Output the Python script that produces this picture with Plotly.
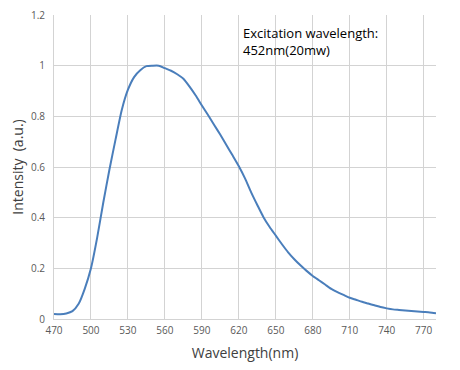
import plotly.graph_objects as go

wavelength = [470, 475, 480, 485, 490, 495, 500, 505, 510, 515, 520, 525, 530, 535, 540,
              545, 550, 555, 560, 565, 570, 575, 580, 585, 590, 595, 600, 605, 610, 615,
              620, 625, 630, 635, 640, 645, 650, 655, 660, 665, 670, 675, 680, 685, 690,
              695, 700, 705, 710, 715, 720, 725, 730, 735, 740, 745, 750, 755, 760, 765,
              770, 775, 780]
intensity = [0.020, 0.019, 0.022, 0.031, 0.060, 0.12, 0.20, 0.32, 0.46, 0.59, 0.71, 0.825, 0.905, 0.955, 0.982,
             0.998, 1.000, 1.000, 0.990, 0.980, 0.966, 0.948, 0.917, 0.882, 0.843, 0.805, 0.766, 0.727, 0.686, 0.645,
             0.603, 0.555, 0.500, 0.450, 0.402, 0.363, 0.329, 0.295, 0.263, 0.236, 0.212, 0.190, 0.170, 0.153, 0.136,
             0.119, 0.106, 0.095, 0.084, 0.076, 0.068, 0.061, 0.054, 0.047, 0.042, 0.038, 0.036, 0.034, 0.032, 0.030,
             0.028, 0.026, 0.023]

x_ticks = list(range(470, 771, 30))
y_ticks = [0, 0.2, 0.4, 0.6, 0.8, 1, 1.2]
y_tick_labels = ["0", "0.2", "0.4", "0.6", "0.8", "1", "1.2"]

font_family = "Open Sans, Lato, sans-serif"
grid = "#d3d3d3"
tick_color = "#595959"

fig = go.Figure()
fig.add_trace(go.Scatter(x=wavelength, y=intensity, mode="lines",
                         line=dict(color="#4a7ebb", width=2, shape="spline", smoothing=0.6),
                         showlegend=False))

fig.add_annotation(x=622, y=1.172, xref="x", yref="y", xanchor="left", yanchor="top",
                   text="Excitation wavelength:<br>452nm(20mw)", showarrow=False, align="left",
                   font=dict(family=font_family, size=13, color="#000000"))

fig.update_layout(
    width=460, height=370,
    margin=dict(l=46, r=32, t=7, b=59),
    paper_bgcolor="white", plot_bgcolor="white",
    font=dict(family=font_family, color=tick_color, size=10),
    xaxis=dict(range=[470, 780], tickvals=x_ticks, showgrid=True, gridcolor=grid, gridwidth=1,
               showline=True, linecolor=grid, linewidth=1, zeroline=False, automargin=False,
               ticks="", ticklabelstandoff=2, ticklabeloverflow="allow",
               title=dict(text="Wavelength(nm)", font=dict(size=14, color="#404040"), standoff=12),
               tickfont=dict(size=10, color=tick_color)),
    yaxis=dict(range=[0, 1.2], tickvals=y_ticks, ticktext=y_tick_labels, showgrid=True, gridcolor=grid,
               gridwidth=1, showline=True, linecolor=grid, linewidth=1, zeroline=False, automargin=False,
               ticks="", ticklabelstandoff=6, ticklabeloverflow="allow",
               title=dict(text="Intensity  (a.u.)", font=dict(size=14, color="#404040"), standoff=6),
               tickfont=dict(size=10, color=tick_color)),
)

fig.write_html("out.html")
